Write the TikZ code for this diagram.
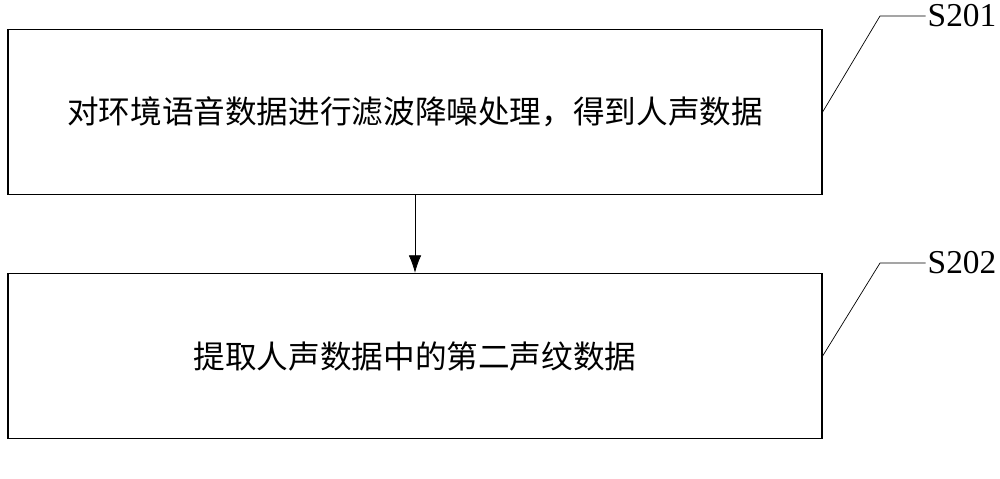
\documentclass[tikz,border=0pt]{standalone}
\usepackage{fontspec}
\setmainfont{Liberation Serif}
\newfontfamily\cjk{Noto Sans CJK SC}
\usetikzlibrary{positioning, arrows.meta}
\begin{document}
\begin{tikzpicture}[x=0.02cm, y=-0.02cm,
    stepbox/.style={draw=black, thick, minimum width=16.28cm, minimum height=3.3cm, font=\cjk\fontsize{18}{20}\selectfont},
    tag/.style={font=\fontsize{19}{21}\selectfont, inner sep=1pt}]
    \useasboundingbox (0,0) rectangle (1000,478);
    % steps
    \node[stepbox] (s1) at (415,112) {对环境语音数据进行滤波降噪处理，得到人声数据};
    \node[stepbox] (s2) at (415,356) {提取人声数据中的第二声纹数据};
    \draw[-{Latex[length=3.5mm,width=2.5mm]}] (s1) -- (s2);
    % labels
    \node[tag] (t1) at (962,16) {S201};
    \node[tag] (t2) at (962,263) {S202};
    \coordinate (k1) at (880,16);
    \coordinate (k2) at (880,263);
    \draw (s1.east) -- (k1) -- (t1.west);
    \draw (s2.east) -- (k2) -- (t2.west);
\end{tikzpicture}
\end{document}
